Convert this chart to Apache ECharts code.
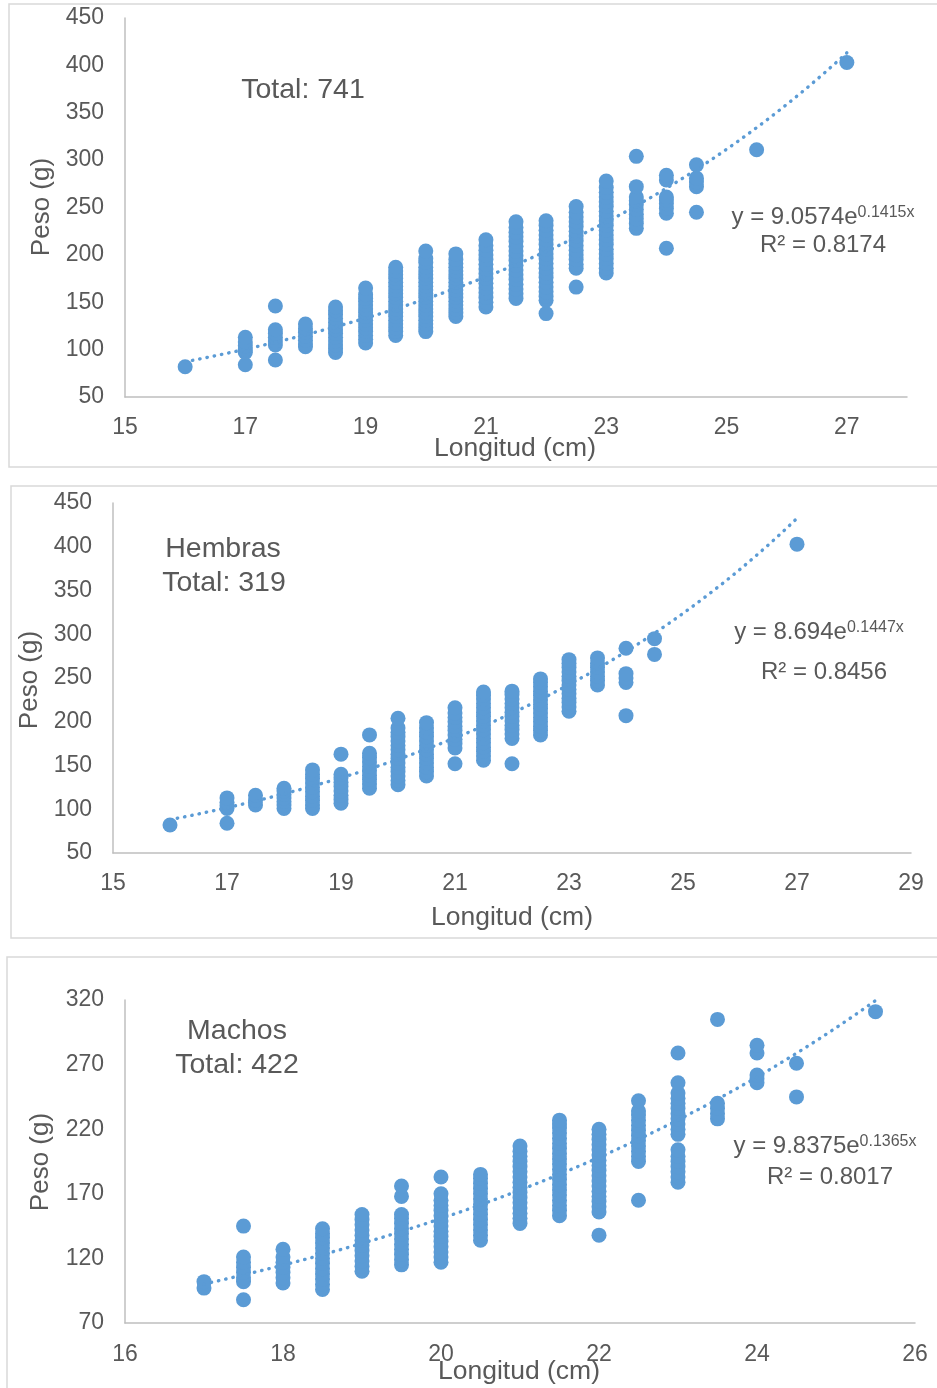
<!DOCTYPE html>
<html>
<head>
<meta charset="utf-8">
<script src="https://cdn.jsdelivr.net/npm/echarts@6/dist/echarts.min.js"></script>
<style>
  html, body { margin: 0; padding: 0; background: #ffffff; }
  #chart { width: 937px; height: 1388px; }
</style>
</head>
<body>
<div id="chart"></div>
<script>
// ---- Total sample: lengths (cm) and the weights (g) measured at each length ----
const totalLengths = [16, 17, 17.5, 18, 18.5, 19, 19.5, 20, 20.5, 21, 21.5, 22, 22.5, 23, 23.5, 24, 24.5, 25.5, 27];
const totalWeights = [
  [82],
  [84, 97, 100, 104, 108, 113],
  [89, 105, 109, 113, 117, 121, 146],
  [103, 106, 110, 114, 118, 122, 127],
  [97, 101, 105, 109, 113, 117, 121, 125, 129, 133, 137, 141, 145],
  [107, 111, 115, 119, 123, 127, 131, 135, 139, 143, 147, 151, 154, 158, 165],
  [115, 119, 123, 127, 131, 135, 139, 143, 147, 151, 155, 159, 163, 167, 171, 175, 179, 183, 187],
  [119, 123, 127, 131, 135, 139, 143, 147, 151, 155, 159, 163, 167, 171, 175, 179, 183, 187, 192, 196, 204],
  [135, 139, 143, 147, 151, 155, 159, 163, 167, 171, 175, 179, 183, 187, 191, 195, 201],
  [145, 150, 155, 160, 165, 170, 175, 180, 185, 190, 195, 200, 205, 210, 216],
  [154, 159, 164, 169, 174, 179, 184, 189, 194, 199, 204, 209, 214, 219, 224, 229, 235],
  [138, 152, 156, 161, 166, 171, 176, 181, 186, 191, 196, 201, 206, 211, 216, 221, 226, 231, 236],
  [166, 186, 190, 195, 200, 205, 210, 215, 220, 225, 230, 235, 240, 245, 251],
  [181, 186, 191, 196, 201, 206, 211, 216, 221, 226, 231, 236, 241, 246, 251, 256, 261, 266, 271, 278],
  [228, 233, 238, 243, 248, 253, 257, 261, 272, 304],
  [207, 244, 249, 254, 258, 261, 279, 284],
  [245, 272, 277, 281, 295],
  [311],
  [403]
];

// ---- Females ----
const hembrasLengths = [16, 17, 17.5, 18, 18.5, 19, 19.5, 20, 20.5, 21, 21.5, 22, 22.5, 23, 23.5, 24, 24.5, 27];
const hembrasWeights = [
  [82],
  [84, 101, 104, 108, 113],
  [105, 110, 116],
  [101, 105, 109, 113, 117, 121, 124],
  [101, 105, 110, 115, 120, 125, 130, 135, 140, 145],
  [107, 111, 116, 121, 126, 131, 136, 140, 163],
  [124, 129, 134, 139, 144, 149, 154, 159, 164, 185],
  [128, 133, 138, 143, 148, 153, 158, 163, 168, 173, 178, 183, 188, 193, 204],
  [138, 143, 148, 153, 158, 163, 168, 173, 178, 183, 188, 193, 199],
  [152, 170, 175, 180, 185, 190, 195, 200, 205, 210, 216],
  [156, 161, 166, 171, 176, 181, 186, 191, 196, 201, 206, 211, 216, 221, 226, 230, 234],
  [152, 181, 186, 191, 196, 201, 206, 211, 216, 221, 226, 231, 235],
  [185, 190, 195, 200, 205, 210, 215, 220, 225, 230, 235, 240, 245, 249],
  [212, 217, 222, 227, 232, 237, 242, 247, 252, 257, 262, 267, 271],
  [242, 247, 252, 257, 262, 267, 273],
  [207, 245, 250, 255, 284],
  [277, 295],
  [403]
];

// ---- Males ----
const machosLengths = [17, 17.5, 18, 18.5, 19, 19.5, 20, 20.5, 21, 21.5, 22, 22.5, 23, 23.5, 24, 24.5, 25.5];
const machosWeights = [
  [97, 102],
  [88, 102, 105, 109, 113, 117, 121, 145],
  [101, 105, 109, 113, 117, 121, 127],
  [96, 100, 104, 108, 112, 116, 120, 124, 128, 132, 136, 139, 143],
  [110, 114, 118, 122, 126, 130, 134, 138, 142, 146, 150, 154],
  [115, 119, 123, 127, 131, 135, 139, 143, 147, 151, 154, 168, 176],
  [117, 121, 125, 129, 133, 137, 141, 145, 149, 153, 157, 161, 165, 170, 183],
  [134, 138, 142, 146, 150, 154, 158, 162, 166, 170, 174, 178, 182, 185],
  [147, 151, 155, 159, 163, 167, 171, 175, 179, 183, 187, 191, 195, 199, 203, 207],
  [153, 157, 161, 165, 169, 173, 177, 181, 185, 189, 193, 197, 201, 205, 209, 213, 217, 221, 224, 227],
  [138, 156, 160, 164, 168, 172, 176, 180, 184, 188, 192, 196, 200, 204, 208, 212, 216, 220],
  [165, 195, 199, 203, 207, 211, 215, 219, 223, 227, 231, 234, 242],
  [179, 183, 187, 191, 195, 199, 204, 216, 220, 224, 228, 232, 236, 240, 244, 248, 256, 279],
  [228, 232, 236, 240, 305],
  [256, 259, 262, 279, 285],
  [245, 271],
  [311]
];

// ---- Exponential trend fits y = a·e^(b·x), drawn over the fitted length range ----
const totalFit   = { a: 9.0574, b: 0.1415, from: 16, to: 27,   r2: '0.8174' };
const hembrasFit = { a: 8.694,  b: 0.1447, from: 16, to: 27,   r2: '0.8456' };
const machosFit  = { a: 9.8375, b: 0.1365, from: 17, to: 25.5, r2: '0.8017' };

// ---- Axis ranges ----
const totalX   = { min: 15, max: 28, interval: 2 };
const hembrasX = { min: 15, max: 29, interval: 2 };
const machosX  = { min: 16, max: 26, interval: 2 };
const totalY   = { min: 50, max: 450, interval: 50 };
const hembrasY = { min: 50, max: 450, interval: 50 };
const machosY  = { min: 70, max: 320, interval: 50 };

const BLUE = '#5B9BD5';
const TEXT = '#595959';
const FONT = '"Liberation Sans", Arial, sans-serif';

function toPoints(lengths, weights) {
  const pts = [];
  lengths.forEach((len, i) => weights[i].forEach(w => pts.push([len, w])));
  return pts;
}

function trendPoints(fit) {
  const pts = [];
  const steps = 60;
  for (let k = 0; k <= steps; k++) {
    const x = fit.from + (fit.to - fit.from) * k / steps;
    pts.push([x, fit.a * Math.exp(fit.b * x)]);
  }
  return pts;
}

function xAxis(gridIndex, range, margin) {
  return {
    type: 'value', gridIndex,
    min: range.min, max: range.max, interval: range.interval,
    axisLine: { show: true, onZero: false, lineStyle: { color: '#BFBFBF', width: 1.5 } },
    axisTick: { show: false },
    splitLine: { show: false },
    axisLabel: {
      color: TEXT, fontSize: 23, fontFamily: FONT, margin,
      formatter: v => ((v - range.min) % range.interval === 0 ? String(v) : '')
    }
  };
}

function yAxis(gridIndex, range) {
  return {
    type: 'value', gridIndex,
    min: range.min, max: range.max, interval: range.interval,
    axisLine: { show: true, lineStyle: { color: '#BFBFBF', width: 1.5 } },
    axisTick: { show: false },
    splitLine: { show: false },
    axisLabel: { color: TEXT, fontSize: 23, fontFamily: FONT, margin: 21 }
  };
}

function scatter(idx, lengths, weights) {
  return {
    type: 'scatter', xAxisIndex: idx, yAxisIndex: idx,
    data: toPoints(lengths, weights),
    symbol: 'circle', symbolSize: 15,
    itemStyle: { color: BLUE, opacity: 1 },
    silent: true, z: 2
  };
}

function trend(idx, fit) {
  return {
    type: 'line', xAxisIndex: idx, yAxisIndex: idx,
    data: trendPoints(fit),
    showSymbol: false, smooth: false, silent: true, z: 3,
    lineStyle: { color: BLUE, width: 3.4, type: [0.4, 7], cap: 'round' }
  };
}

function label(text, x, y, size) {
  return {
    type: 'text', x, y, silent: true, z: 10,
    style: { text, fill: TEXT, font: `${size}px ${FONT}`, align: 'center', verticalAlign: 'middle' }
  };
}

function vLabel(text, x, y, size) {
  return {
    type: 'text', x, y, rotation: Math.PI / 2, silent: true, z: 10,
    style: { text, fill: TEXT, font: `${size}px ${FONT}`, align: 'center', verticalAlign: 'middle' }
  };
}

function equation(fit, x, y) {
  return {
    type: 'text', x, y, silent: true, z: 10,
    style: {
      text: `{m|y = ${fit.a}e}{s|${fit.b}x}`,
      fill: TEXT,
      align: 'center', verticalAlign: 'middle',
      rich: {
        m: { fontSize: 24, fontFamily: FONT, fill: TEXT, verticalAlign: 'bottom' },
        s: { fontSize: 16, fontFamily: FONT, fill: TEXT, verticalAlign: 'top' }
      }
    }
  };
}

function frame(x, y, w, h) {
  return {
    type: 'rect', silent: true, z: 0,
    shape: { x, y, width: w, height: h },
    style: { fill: 'none', stroke: '#D9D9D9', lineWidth: 1.5 }
  };
}

const chart = echarts.init(document.getElementById('chart'), null, { renderer: 'canvas' });

chart.setOption({
  backgroundColor: '#ffffff',
  animation: false,
  grid: [
    { left: 125, top: 18,   width: 782, height: 379 },
    { left: 113, top: 503,  width: 798, height: 350 },
    { left: 125, top: 1000, width: 790, height: 323 }
  ],
  xAxis: [xAxis(0, totalX, 19), xAxis(1, hembrasX, 19), xAxis(2, machosX, 20)],
  yAxis: [yAxis(0, totalY), yAxis(1, hembrasY), yAxis(2, machosY)],
  series: [
    scatter(0, totalLengths, totalWeights),
    trend(0, totalFit),
    scatter(1, hembrasLengths, hembrasWeights),
    trend(1, hembrasFit),
    scatter(2, machosLengths, machosWeights),
    trend(2, machosFit)
  ],
  graphic: [
    frame(9, 4, 940, 463),
    frame(11, 486, 940, 452),
    frame(7, 957, 940, 450),

    label('Total: 741', 303, 90, 28.5),
    vLabel('Peso (g)', 42, 207, 26),
    label('Longitud (cm)', 515, 449, 26.5),
    equation(totalFit, 823, 217),
    label('R² = ' + totalFit.r2, 823, 245, 24),

    label('Hembras', 223, 549, 28.5),
    label('Total: 319', 224, 583, 28.5),
    vLabel('Peso (g)', 30, 680, 26),
    label('Longitud (cm)', 512, 918, 26.5),
    equation(hembrasFit, 819, 632),
    label('R² = ' + hembrasFit.r2, 824, 672, 24),

    label('Machos', 237, 1031, 28.5),
    label('Total: 422', 237, 1065, 28.5),
    vLabel('Peso (g)', 41, 1162, 26),
    label('Longitud (cm)', 519, 1372, 26.5),
    equation(machosFit, 825, 1146),
    label('R² = ' + machosFit.r2, 830, 1177, 24)
  ]
});
</script>
</body>
</html>
